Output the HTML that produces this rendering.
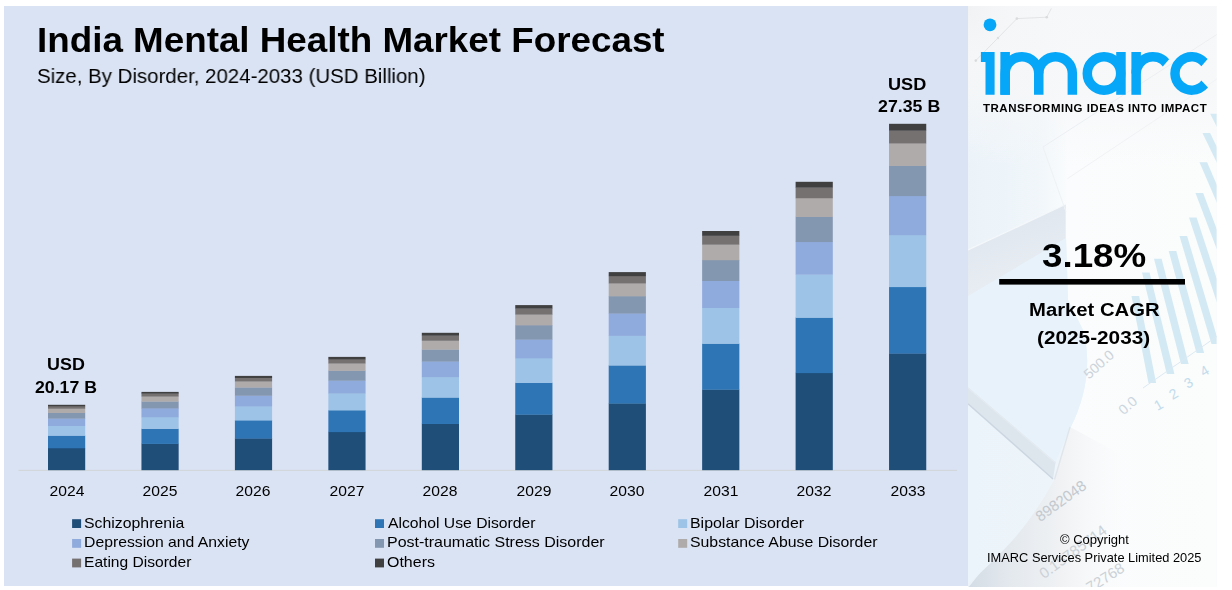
<!DOCTYPE html>
<html><head><meta charset="utf-8"><title>India Mental Health Market Forecast</title>
<style>
html,body{margin:0;padding:0;background:#fff}
body{width:1232px;height:590px;position:relative;overflow:hidden;font-family:"Liberation Sans",sans-serif;color:#000}
#chart{position:absolute;left:4px;top:6px;width:964px;height:580px;background:#dae3f3}
#side{position:absolute;left:968px;top:6px;width:248.6px;height:581px;background:#f9fbfd;overflow:hidden}
svg{position:absolute;left:0;top:0}
.t{position:absolute;white-space:pre;line-height:1;transform-origin:0 0;color:#000;will-change:transform}
.b{font-weight:700}
</style></head><body>
<div id="chart"></div>
<div id="side"></div>
<svg width="1232" height="590" viewBox="0 0 1232 590">
<defs>
<clipPath id="sc"><rect x="968" y="6" width="248.6" height="581"/></clipPath>
<linearGradient id="gbase" x1="0" y1="0" x2="1" y2="0"><stop offset="0" stop-color="#ebf3f9"/><stop offset="0.28" stop-color="#f0f6fa"/><stop offset="0.40" stop-color="#fafcfd"/><stop offset="1" stop-color="#fbfcfc"/></linearGradient>
<radialGradient id="gcorner" cx="968" cy="6" r="70" gradientUnits="userSpaceOnUse"><stop offset="0" stop-color="#b9bec3" stop-opacity="0.85"/><stop offset="0.5" stop-color="#dfe3e7" stop-opacity="0.5"/><stop offset="1" stop-color="#f4f6f8" stop-opacity="0"/></radialGradient>
<linearGradient id="gface" x1="0" y1="0" x2="0.35" y2="1"><stop offset="0" stop-color="#dde4ec"/><stop offset="1" stop-color="#e9eef4"/></linearGradient>
<linearGradient id="gpie" x1="0" y1="0" x2="1" y2="0"><stop offset="0" stop-color="#ebf4fa"/><stop offset="1" stop-color="#eef5fa"/></linearGradient>
<linearGradient id="gpaper" x1="968" y1="0" x2="1140" y2="0" gradientUnits="userSpaceOnUse"><stop offset="0" stop-color="#d3dce5"/><stop offset="0.25" stop-color="#e4e9ee"/><stop offset="0.55" stop-color="#f0f2f4"/><stop offset="1" stop-color="#fcfdfe" stop-opacity="0"/></linearGradient>
<linearGradient id="gtop" x1="0" y1="6" x2="0" y2="166" gradientUnits="userSpaceOnUse"><stop offset="0" stop-color="#f6f7f8" stop-opacity="0.9"/><stop offset="0.55" stop-color="#f6f7f8" stop-opacity="0.8"/><stop offset="1" stop-color="#f6f8fa" stop-opacity="0"/></linearGradient>
</defs>
<g clip-path="url(#sc)">
<rect x="968" y="6" width="250" height="581" fill="url(#gbase)"/>
<rect x="968" y="6" width="90" height="90" fill="url(#gcorner)"/>
<path d="M1054 480 L1070 427 L1150 470 L1130 588 L968 588 Z" fill="url(#gpaper)"/>
<path d="M968 296 L1066 238 L1068 300 L1083 330 C1092 362 1086 398 1069.8 429 L1054.3 479.8 Q1035 515 1012 541 Q990 565 969 583 L968 583 Z" fill="url(#gpie)"/>
<path d="M968 250 L1065.7 204.2 L1065.7 238.5 L968 298 Z" fill="url(#gface)"/>
<path d="M968 250 L1065.7 204.2" stroke="#f4f8fb" stroke-width="1.2" fill="none"/>
<rect x="968" y="6" width="250" height="160" fill="url(#gtop)"/>
<path d="M1043 147 L1217.5 34" stroke="#eceff2" stroke-width="1" fill="none"/>
<path d="M1043 147 L1066 212" stroke="#eef2f5" stroke-width="1" fill="none"/>
<path d="M1067.4 178.7 L1140.4 130 L1217 79" stroke="#f0f2f4" stroke-width="1" fill="none"/>
<path d="M975.8 60.6 L1016.9 18.6 L1046.7 17.2 L1051.4 8.4" stroke="#e2e4e6" stroke-width="1" fill="none"/>
<circle cx="975.8" cy="60.6" r="1.3" fill="#d9dbdd"/><circle cx="1016.9" cy="18.6" r="1.3" fill="#d9dbdd"/><circle cx="1046.7" cy="17.2" r="1.3" fill="#d9dbdd"/><circle cx="998" cy="38" r="1.2" fill="#dcdee0"/>
<path d="M968 296 L1066 238 L1068 300 L1083 330 C1092 362 1086 398 1069.8 429 L1055.6 462.3 L968 387.3 Z" fill="#e7f2fa"/>
<path d="M968 387.3 L1055.6 462.3 L1053 478.9 L968 403.8 Z" fill="#dde5ed"/>
<path d="M968 403.8 L1053 478.9" stroke="#ccd6e0" stroke-width="1.4" fill="none"/>
<path d="M968 388 L1055.6 463" stroke="#e4ebf1" stroke-width="1.2" fill="none"/>
<path d="M1054.5 479.5 L1070 427" stroke="#dfe5eb" stroke-width="1.3" fill="none"/>

<path d="M1131.5 296 L1139.1 296 L1156.1 383 L1148.5 383 Z" fill="#d3e9f4"/>
<path d="M1142 272.5 L1149.6 272.5 L1174.3999999999999 374 L1166.8 374 Z" fill="#d3e9f4"/>
<path d="M1154 258.8 L1161.6 258.8 L1188.6 364 L1181 364 Z" fill="#d3e9f4"/>
<path d="M1168.7 251 L1176.3 251 L1204.1 353 L1196.5 353 Z" fill="#d3e9f4"/>
<path d="M1179.5 236 L1187.1 236 L1219.1 344 L1211.5 344 Z" fill="#d3e9f4"/>
<path d="M1189 217.5 L1196.6 217.5 L1233.6 330 L1226 330 Z" fill="#d3e9f4"/>
<path d="M1195.5 193 L1203.1 193 L1237.6 284 L1230 284 Z" fill="#d3e9f4"/>
<path d="M1199.5 162.2 L1207.1 162.2 L1239.6 238 L1232 238 Z" fill="#d3e9f4"/>
<path d="M1202.5 132.9 L1210.1 132.9 L1239.6 194 L1232 194 Z" fill="#d3e9f4"/>
<path d="M1210.2 113.8 L1217.8 113.8 L1239.6 157 L1232 157 Z" fill="#d3e9f4"/>
<path d="M1143 388 L1217.5 336" stroke="#dbe9f2" stroke-width="1" fill="none"/>
<text x="1102" y="368" transform="rotate(-42 1102 368)" font-family="Liberation Sans, sans-serif" font-size="14" fill="#ccd3da" text-anchor="middle">500.0</text>
<text x="1131" y="409" transform="rotate(-42 1131 409)" font-family="Liberation Sans, sans-serif" font-size="14" fill="#ccd6e0" text-anchor="middle">0.0</text>
<text x="1161" y="409" transform="rotate(-30 1161 409)" font-family="Liberation Sans, sans-serif" font-size="14" fill="#c3dcec" text-anchor="middle">1</text>
<text x="1176" y="398" transform="rotate(-30 1176 398)" font-family="Liberation Sans, sans-serif" font-size="14" fill="#c3dcec" text-anchor="middle">2</text>
<text x="1191" y="387" transform="rotate(-30 1191 387)" font-family="Liberation Sans, sans-serif" font-size="14" fill="#c3dcec" text-anchor="middle">3</text>
<text x="1207" y="375" transform="rotate(-30 1207 375)" font-family="Liberation Sans, sans-serif" font-size="14" fill="#c3dcec" text-anchor="middle">4</text>
<text x="1064" y="505" transform="rotate(-36 1064 505)" font-family="Liberation Sans, sans-serif" font-size="15" fill="#c3c9cf" text-anchor="middle">8982048</text>
<text x="1076" y="556" transform="rotate(-36 1076 556)" font-family="Liberation Sans, sans-serif" font-size="15" fill="#cbd1d7" text-anchor="middle">0.15785714</text>
<text x="1108" y="582" transform="rotate(-32 1108 582)" font-family="Liberation Sans, sans-serif" font-size="15" fill="#cbd1d7" text-anchor="middle">72768</text>
</g>
<rect x="18.5" y="469.9" width="938.5" height="1" fill="#d1d5da"/>
<rect x="48.00" y="447.96" width="37.2" height="22.24" fill="#1f4e79"/>
<rect x="48.00" y="435.46" width="37.2" height="12.80" fill="#2e75b6"/>
<rect x="48.00" y="425.70" width="37.2" height="10.06" fill="#9dc3e6"/>
<rect x="48.00" y="418.34" width="37.2" height="7.66" fill="#8faadc"/>
<rect x="48.00" y="412.68" width="37.2" height="5.96" fill="#8497b0"/>
<rect x="48.00" y="408.45" width="37.2" height="4.53" fill="#afabab"/>
<rect x="48.00" y="406.04" width="37.2" height="2.71" fill="#767171"/>
<rect x="48.00" y="404.80" width="37.2" height="1.54" fill="#404040"/>
<rect x="141.45" y="443.61" width="37.2" height="26.59" fill="#1f4e79"/>
<rect x="141.45" y="428.64" width="37.2" height="15.28" fill="#2e75b6"/>
<rect x="141.45" y="416.94" width="37.2" height="12.00" fill="#9dc3e6"/>
<rect x="141.45" y="408.12" width="37.2" height="9.11" fill="#8faadc"/>
<rect x="141.45" y="401.34" width="37.2" height="7.09" fill="#8497b0"/>
<rect x="141.45" y="396.27" width="37.2" height="5.37" fill="#afabab"/>
<rect x="141.45" y="393.38" width="37.2" height="3.19" fill="#767171"/>
<rect x="141.45" y="391.90" width="37.2" height="1.78" fill="#404040"/>
<rect x="234.90" y="438.22" width="37.2" height="31.98" fill="#1f4e79"/>
<rect x="234.90" y="420.17" width="37.2" height="18.35" fill="#2e75b6"/>
<rect x="234.90" y="406.07" width="37.2" height="14.40" fill="#9dc3e6"/>
<rect x="234.90" y="395.45" width="37.2" height="10.92" fill="#8faadc"/>
<rect x="234.90" y="387.27" width="37.2" height="8.48" fill="#8497b0"/>
<rect x="234.90" y="381.16" width="37.2" height="6.41" fill="#afabab"/>
<rect x="234.90" y="377.69" width="37.2" height="3.78" fill="#767171"/>
<rect x="234.90" y="375.90" width="37.2" height="2.09" fill="#404040"/>
<rect x="328.35" y="431.82" width="37.2" height="38.38" fill="#1f4e79"/>
<rect x="328.35" y="410.12" width="37.2" height="22.00" fill="#2e75b6"/>
<rect x="328.35" y="393.17" width="37.2" height="17.25" fill="#9dc3e6"/>
<rect x="328.35" y="380.40" width="37.2" height="13.07" fill="#8faadc"/>
<rect x="328.35" y="370.57" width="37.2" height="10.13" fill="#8497b0"/>
<rect x="328.35" y="363.23" width="37.2" height="7.65" fill="#afabab"/>
<rect x="328.35" y="359.05" width="37.2" height="4.48" fill="#767171"/>
<rect x="328.35" y="356.90" width="37.2" height="2.45" fill="#404040"/>
<rect x="421.80" y="423.70" width="37.2" height="46.50" fill="#1f4e79"/>
<rect x="421.80" y="397.37" width="37.2" height="26.62" fill="#2e75b6"/>
<rect x="421.80" y="376.81" width="37.2" height="20.86" fill="#9dc3e6"/>
<rect x="421.80" y="361.32" width="37.2" height="15.79" fill="#8faadc"/>
<rect x="421.80" y="349.39" width="37.2" height="12.23" fill="#8497b0"/>
<rect x="421.80" y="340.48" width="37.2" height="9.21" fill="#afabab"/>
<rect x="421.80" y="335.40" width="37.2" height="5.37" fill="#767171"/>
<rect x="421.80" y="332.80" width="37.2" height="2.90" fill="#404040"/>
<rect x="515.25" y="414.36" width="37.2" height="55.84" fill="#1f4e79"/>
<rect x="515.25" y="382.72" width="37.2" height="31.94" fill="#2e75b6"/>
<rect x="515.25" y="358.00" width="37.2" height="25.02" fill="#9dc3e6"/>
<rect x="515.25" y="339.38" width="37.2" height="18.92" fill="#8faadc"/>
<rect x="515.25" y="325.04" width="37.2" height="14.64" fill="#8497b0"/>
<rect x="515.25" y="314.33" width="37.2" height="11.01" fill="#afabab"/>
<rect x="515.25" y="308.23" width="37.2" height="6.40" fill="#767171"/>
<rect x="515.25" y="305.10" width="37.2" height="3.43" fill="#404040"/>
<rect x="608.70" y="403.24" width="37.2" height="66.96" fill="#1f4e79"/>
<rect x="608.70" y="365.26" width="37.2" height="38.28" fill="#2e75b6"/>
<rect x="608.70" y="335.59" width="37.2" height="29.97" fill="#9dc3e6"/>
<rect x="608.70" y="313.24" width="37.2" height="22.65" fill="#8faadc"/>
<rect x="608.70" y="296.03" width="37.2" height="17.51" fill="#8497b0"/>
<rect x="608.70" y="283.18" width="37.2" height="13.16" fill="#afabab"/>
<rect x="608.70" y="275.86" width="37.2" height="7.62" fill="#767171"/>
<rect x="608.70" y="272.10" width="37.2" height="4.06" fill="#404040"/>
<rect x="702.15" y="389.39" width="37.2" height="80.81" fill="#1f4e79"/>
<rect x="702.15" y="343.52" width="37.2" height="46.17" fill="#2e75b6"/>
<rect x="702.15" y="307.69" width="37.2" height="36.13" fill="#9dc3e6"/>
<rect x="702.15" y="280.69" width="37.2" height="27.30" fill="#8faadc"/>
<rect x="702.15" y="259.91" width="37.2" height="21.08" fill="#8497b0"/>
<rect x="702.15" y="244.38" width="37.2" height="15.83" fill="#afabab"/>
<rect x="702.15" y="235.54" width="37.2" height="9.14" fill="#767171"/>
<rect x="702.15" y="231.00" width="37.2" height="4.84" fill="#404040"/>
<rect x="795.60" y="372.81" width="37.2" height="97.39" fill="#1f4e79"/>
<rect x="795.60" y="317.50" width="37.2" height="55.62" fill="#2e75b6"/>
<rect x="795.60" y="274.28" width="37.2" height="43.51" fill="#9dc3e6"/>
<rect x="795.60" y="241.72" width="37.2" height="32.86" fill="#8faadc"/>
<rect x="795.60" y="216.66" width="37.2" height="25.36" fill="#8497b0"/>
<rect x="795.60" y="197.93" width="37.2" height="19.03" fill="#afabab"/>
<rect x="795.60" y="187.27" width="37.2" height="10.96" fill="#767171"/>
<rect x="795.60" y="181.80" width="37.2" height="5.77" fill="#404040"/>
<rect x="889.05" y="353.26" width="37.2" height="116.94" fill="#1f4e79"/>
<rect x="889.05" y="286.81" width="37.2" height="66.75" fill="#2e75b6"/>
<rect x="889.05" y="234.90" width="37.2" height="52.21" fill="#9dc3e6"/>
<rect x="889.05" y="195.79" width="37.2" height="39.41" fill="#8faadc"/>
<rect x="889.05" y="165.68" width="37.2" height="30.41" fill="#8497b0"/>
<rect x="889.05" y="143.18" width="37.2" height="22.80" fill="#afabab"/>
<rect x="889.05" y="130.38" width="37.2" height="13.11" fill="#767171"/>
<rect x="889.05" y="123.80" width="37.2" height="6.88" fill="#404040"/>
<rect x="72.1" y="519.2" width="9" height="8.8" fill="#1f4e79"/>
<rect x="72.1" y="539.0" width="9" height="8.8" fill="#8faadc"/>
<rect x="72.1" y="558.6" width="9" height="8.8" fill="#767171"/>
<rect x="375.0" y="519.2" width="9" height="8.8" fill="#2e75b6"/>
<rect x="375.0" y="539.0" width="9" height="8.8" fill="#8497b0"/>
<rect x="375.0" y="558.6" width="9" height="8.8" fill="#404040"/>
<rect x="678.2" y="519.2" width="9" height="8.8" fill="#9dc3e6"/>
<rect x="678.2" y="539.0" width="9" height="8.8" fill="#afabab"/>
<g fill="#06a6f8" stroke="none">
<circle cx="990" cy="24.8" r="6.4"/>
<path d="M980.9 52 H994.6 V94.8 H985.5 V61.9 H980.9 Z"/>
<rect x="1000.4" y="52" width="9.5" height="42.8"/>
<rect x="1116.2" y="52" width="9.5" height="42.8"/>
<rect x="1131.4" y="52" width="9.5" height="42.8"/>
<path d="M1131.4 73.5 A21.55 21.55 0 0 1 1169.09 59.22 L1162.82 66.59 A12.05 12.05 0 0 0 1140.9 73.5 Z"/>
<path d="M1207.64 59.10 A21.45 21.45 0 1 0 1208.01 87.38 L1201.35 80.59 A12.0 12.0 0 1 1 1201.35 66.31 Z"/>
</g>
<g fill="none" stroke="#06a6f8" stroke-width="9.5">
<path d="M1005.15 94.8 V73.5 A16.8 16.8 0 0 1 1038.75 73.5 V94.8"/>
<path d="M1038.75 73.5 A16.8 16.8 0 0 1 1072.35 73.5 V94.8"/>
<circle cx="1104" cy="73.45" r="16.7"/>
</g>

<rect x="999.2" y="279" width="185.8" height="5.6" fill="#000"/>
</svg>
<div class="t b" style="left:37.02px;top:21.98px;font-size:35.32px;transform:scaleX(1.0418)">India Mental Health Market Forecast</div>
<div class="t" style="left:36.81px;top:66.06px;font-size:20.93px;transform:scaleX(0.9769)">Size, By Disorder, 2024-2033 (USD Billion)</div>
<div class="t b" style="left:47.06px;top:356.96px;font-size:15.99px;transform:scaleX(1.1206)">USD</div>
<div class="t b" style="left:34.83px;top:379.96px;font-size:15.99px;transform:scaleX(1.1064)">20.17 B</div>
<div class="t b" style="left:888.05px;top:76.96px;font-size:15.99px;transform:scaleX(1.1326)">USD</div>
<div class="t b" style="left:877.83px;top:99.06px;font-size:15.99px;transform:scaleX(1.1116)">27.35 B</div>
<div class="t" style="left:83.89px;top:514.95px;font-size:15.41px;transform:scaleX(1.0278)">Schizophrenia</div>
<div class="t" style="left:83.59px;top:533.95px;font-size:15.41px;transform:scaleX(1.0224)">Depression and Anxiety</div>
<div class="t" style="left:83.61px;top:553.95px;font-size:15.41px;transform:scaleX(1.0113)">Eating Disorder</div>
<div class="t" style="left:387.98px;top:514.95px;font-size:15.41px;transform:scaleX(1.0194)">Alcohol Use Disorder</div>
<div class="t" style="left:386.95px;top:533.95px;font-size:15.41px;transform:scaleX(1.0377)">Post-traumatic Stress Disorder</div>
<div class="t" style="left:387.20px;top:553.95px;font-size:15.41px;transform:scaleX(1.0368)">Others</div>
<div class="t" style="left:689.64px;top:514.95px;font-size:15.41px;transform:scaleX(1.0332)">Bipolar Disorder</div>
<div class="t" style="left:689.95px;top:533.95px;font-size:15.41px;transform:scaleX(1.0279)">Substance Abuse Disorder</div>
<div class="t b" style="left:982.77px;top:102.99px;font-size:11.48px;letter-spacing:0.5px;transform:scaleX(1.0029)">TRANSFORMING IDEAS INTO IMPACT</div>
<div class="t b" style="left:1042.42px;top:237.99px;font-size:34.01px;transform:scaleX(1.0806)">3.18%</div>
<div class="t b" style="left:1028.72px;top:301.98px;font-size:17.44px;transform:scaleX(1.1619)">Market CAGR</div>
<div class="t b" style="left:1037.47px;top:330.03px;font-size:17.44px;transform:scaleX(1.1914)">(2025-2033)</div>
<div class="t" style="left:1059.88px;top:533.98px;font-size:12.79px;transform:scaleX(1.0181)">© Copyright</div>
<div class="t" style="left:986.89px;top:551.98px;font-size:12.79px;transform:scaleX(1.0032)">IMARC Services Private Limited 2025</div>
<div class="t" style="left:36.50px;width:60px;text-align:center;transform-origin:50% 0;top:484.02px;font-size:14.86px;transform:scaleX(1.0537)">2024</div>
<div class="t" style="left:129.96px;width:60px;text-align:center;transform-origin:50% 0;top:484.02px;font-size:14.86px;transform:scaleX(1.0537)">2025</div>
<div class="t" style="left:223.42px;width:60px;text-align:center;transform-origin:50% 0;top:484.02px;font-size:14.86px;transform:scaleX(1.0537)">2026</div>
<div class="t" style="left:316.88px;width:60px;text-align:center;transform-origin:50% 0;top:484.02px;font-size:14.86px;transform:scaleX(1.0537)">2027</div>
<div class="t" style="left:410.34px;width:60px;text-align:center;transform-origin:50% 0;top:484.02px;font-size:14.86px;transform:scaleX(1.0537)">2028</div>
<div class="t" style="left:503.80px;width:60px;text-align:center;transform-origin:50% 0;top:484.02px;font-size:14.86px;transform:scaleX(1.0537)">2029</div>
<div class="t" style="left:597.26px;width:60px;text-align:center;transform-origin:50% 0;top:484.02px;font-size:14.86px;transform:scaleX(1.0537)">2030</div>
<div class="t" style="left:690.72px;width:60px;text-align:center;transform-origin:50% 0;top:484.02px;font-size:14.86px;transform:scaleX(1.0537)">2031</div>
<div class="t" style="left:784.18px;width:60px;text-align:center;transform-origin:50% 0;top:484.02px;font-size:14.86px;transform:scaleX(1.0537)">2032</div>
<div class="t" style="left:877.64px;width:60px;text-align:center;transform-origin:50% 0;top:484.02px;font-size:14.86px;transform:scaleX(1.0537)">2033</div>
</body></html>
